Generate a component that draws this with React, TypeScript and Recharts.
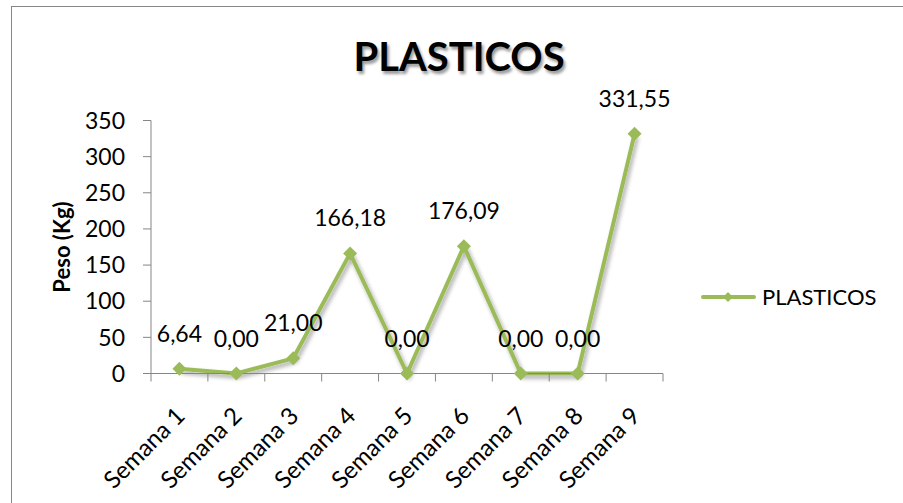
import { LineChart, Line, XAxis, YAxis, Legend, LabelList } from 'recharts';

const GREEN = '#9BBB59';
const AXIS = '#868686';
const FONT = 'Lato, "Open Sans", sans-serif';
const FS = 23;

const categories = [
  'Semana 1',
  'Semana 2',
  'Semana 3',
  'Semana 4',
  'Semana 5',
  'Semana 6',
  'Semana 7',
  'Semana 8',
  'Semana 9',
];
const plasticos = [6.64, 0, 21, 166.18, 0, 176.09, 0, 0, 331.55];
const yTicks = [0, 50, 100, 150, 200, 250, 300, 350];

const data = categories.map((semana, i) => ({ semana, plasticos: plasticos[i] }));

const PLOT_WIDTH = 512;
const STEP = PLOT_WIDTH / categories.length;

const fmt = (v: number) => v.toFixed(2).replace('.', ',');

function Diamond({ cx, cy, r = 7 }: { cx: number; cy: number; r?: number }) {
  return <path d={`M${cx},${cy - r} L${cx + r},${cy} L${cx},${cy + r} L${cx - r},${cy} Z`} fill={GREEN} />;
}

function XTick(props: any) {
  const { x, y, payload, index } = props;
  const half = STEP / 2;
  const tx = x + 7;
  const ty = y + 36;
  return (
    <g>
      <line x1={x - half} x2={x - half} y1={y - 8} y2={y} stroke={AXIS} />
      {index === categories.length - 1 && <line x1={x + half} x2={x + half} y1={y - 8} y2={y} stroke={AXIS} />}
      <text x={tx} y={ty} textAnchor="end" transform={`rotate(-45 ${tx} ${ty})`} fontSize={24} fill="#000" fontFamily={FONT}>
        {payload.value}
      </text>
    </g>
  );
}

function renderLegend() {
  return (
    <svg width={200} height={28}>
      <line x1={4} x2={55} y1={13} y2={13} stroke={GREEN} strokeWidth={4} strokeLinecap="round" />
      <Diamond cx={29} cy={13} r={5} />
      <text x={63} y={13} dy="0.36em" fontSize={22} fill="#000" fontFamily={FONT}>
        PLASTICOS
      </text>
    </svg>
  );
}

export default function App() {
  return (
    <div style={{ position: 'absolute', left: 0, top: 0, width: 903, height: 503, background: '#fff', overflow: 'hidden', fontFamily: FONT }}>
      <svg width={0} height={0} style={{ position: 'absolute' }}>
        <defs>
          <filter id="shadow" x="-20%" y="-20%" width="140%" height="140%">
            <feDropShadow dx={2} dy={3} stdDeviation={2} floodColor="#000" floodOpacity={0.35} />
          </filter>
        </defs>
      </svg>
      <div style={{ position: 'absolute', left: 11, top: 6, width: 920, height: 520, border: `1px solid ${AXIS}` }} />
      <div
        style={{
          position: 'absolute',
          left: 0,
          width: 918,
          top: 36,
          textAlign: 'center',
          fontSize: 40,
          lineHeight: '40px',
          fontWeight: 700,
          color: '#000',
          textShadow: '2px 3px 3px rgba(0,0,0,0.4)',
        }}
      >
        PLASTICOS
      </div>
      <LineChart width={903} height={503} data={data} margin={{ top: 120.5, right: 240, left: 0, bottom: 0 }}>
        <XAxis
          dataKey="semana"
          height={129.5}
          padding={{ left: STEP / 2, right: STEP / 2 }}
          axisLine={{ stroke: AXIS }}
          tickLine={false}
          tickSize={8}
          tickMargin={0}
          interval={0}
          tick={<XTick />}
        />
        <YAxis
          width={151}
          domain={[0, 350]}
          ticks={yTicks}
          axisLine={{ stroke: AXIS }}
          tickLine={{ stroke: AXIS }}
          tickSize={8}
          tickMargin={18}
          tick={{ fill: '#000', fontSize: FS, fontFamily: FONT }}
          label={{
            content: (p: any) => {
              const vb = p.viewBox;
              const cx = vb.x + 69.5;
              const cy = vb.y + vb.height / 2;
              return (
                <text x={cx} y={cy} textAnchor="middle" transform={`rotate(-90 ${cx} ${cy})`} fontSize={22} fontWeight={700} fill="#000" fontFamily={FONT}>
                  Peso (Kg)
                </text>
              );
            },
          }}
        />
        <Legend
          layout="horizontal"
          verticalAlign="middle"
          align="center"
          content={renderLegend}
          wrapperStyle={{ left: 699, top: 284, width: 200, height: 28 }}
        />
        <Line
          type="linear"
          dataKey="plasticos"
          name="PLASTICOS"
          stroke={GREEN}
          strokeWidth={4}
          filter="url(#shadow)"
          dot={(p: any) => <Diamond key={p.index} cx={p.cx} cy={p.cy} />}
          activeDot={false}
          isAnimationActive={false}
        >
          <LabelList
            dataKey="plasticos"
            content={(p: any) => (
              <text x={p.x} y={p.y - 27} textAnchor="middle" fontSize={FS} fill="#000" fontFamily={FONT}>
                {fmt(Number(p.value))}
              </text>
            )}
          />
        </Line>
      </LineChart>
    </div>
  );
}
